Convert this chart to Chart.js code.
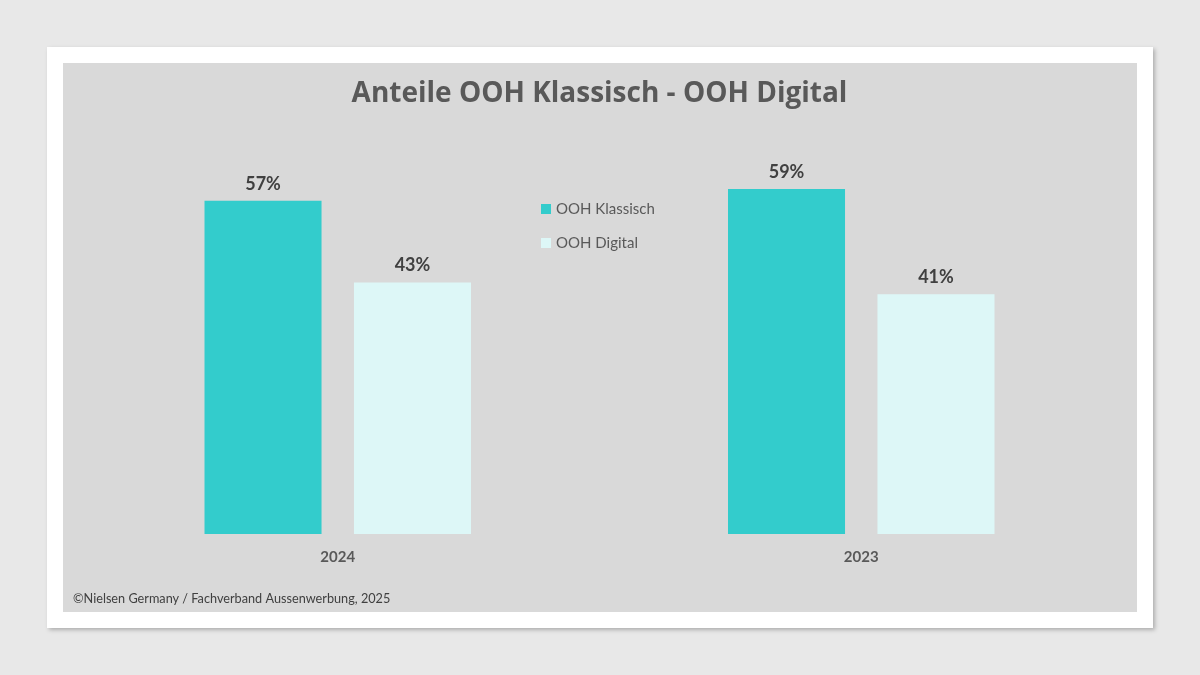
<!DOCTYPE html>
<html>
<head>
<meta charset="utf-8">
<script src="https://cdn.jsdelivr.net/npm/chart.js@4"></script>
<style>
  html, body { margin: 0; padding: 0; }
  body { width: 1200px; height: 675px; background: #e8e8e8; position: relative; overflow: hidden; }
  .card {
    position: absolute; left: 47px; top: 47px; width: 1106px; height: 581px;
    background: #fff; box-shadow: 2px 2px 4px rgba(0,0,0,0.25);
  }
  .panel {
    position: absolute; left: 16px; top: 16px; width: 1074px; height: 549px;
    background: #d9d9d9;
  }
</style>
</head>
<body>
<div class="card">
  <div class="panel">
    <canvas id="chart" width="1074" height="549"></canvas>
  </div>
</div>
<script>
const years = ['2024', '2023'];
const klassisch = [57, 59];
const digital = [43, 41];
const seriesNames = ['OOH Klassisch', 'OOH Digital'];
const titleText = 'Anteile OOH Klassisch - OOH Digital';
const sourceText = '\u00A9Nielsen Germany / Fachverband Aussenwerbung, 2025';

// value labels above bars, legend and source line
const extras = {
    id: 'extras',
    afterDatasetsDraw(chart) {
        const c = chart.ctx;
        c.save();
        c.font = 'bold 18px Lato, "Open Sans", sans-serif';
        c.fillStyle = '#404040';
        c.textAlign = 'center';
        c.textBaseline = 'middle';
        chart.data.datasets.forEach((ds, i) => {
            chart.getDatasetMeta(i).data.forEach((bar, j) => {
                c.fillText(ds.data[j] + '%', bar.x, bar.y - 17);
            });
        });

        // legend
        c.font = '15px Lato, "Open Sans", sans-serif';
        c.textAlign = 'left';
        chart.data.datasets.forEach((ds, i) => {
            const y = 146 + i * 34;
            c.fillStyle = ds.backgroundColor;
            c.fillRect(478, y - 5, 10, 10);
            c.fillStyle = '#595959';
            c.fillText(ds.label, 493, y);
        });

        // source
        c.font = '12.7px Lato, "Open Sans", sans-serif';
        c.fillStyle = '#404040';
        c.fillText(sourceText, 10, 536);
        c.restore();
    }
};

new Chart(document.getElementById('chart'), {
    type: 'bar',
    data: {
        labels: years,
        datasets: [
            { label: seriesNames[0], data: klassisch, backgroundColor: '#33cccc' },
            { label: seriesNames[1], data: digital, backgroundColor: '#ddf7f7' }
        ]
    },
    options: {
        responsive: false,
        animation: false,
        layout: { padding: { left: 13, right: 14, top: 0, bottom: 32 } },
        datasets: {
            bar: { categoryPercentage: 0.571, barPercentage: 0.783 }
        },
        plugins: {
            legend: { display: false },
            tooltip: { enabled: false },
            title: {
                display: true,
                text: titleText,
                color: '#595959',
                font: { family: '"Open Sans", sans-serif', size: 28, weight: 'bold', lineHeight: 1.2 },
                padding: { top: 14.2, bottom: 43.2 }
            }
        },
        scales: {
            x: {
                grid: { display: false, drawTicks: false },
                border: { display: false },
                ticks: {
                    color: '#595959',
                    padding: 14,
                    font: { family: 'Lato, "Open Sans", sans-serif', size: 15, weight: 'bold', lineHeight: 1.2 }
                }
            },
            y: {
                display: false,
                min: 0,
                max: 65
            }
        }
    },
    plugins: [extras]
});
</script>
</body>
</html>
